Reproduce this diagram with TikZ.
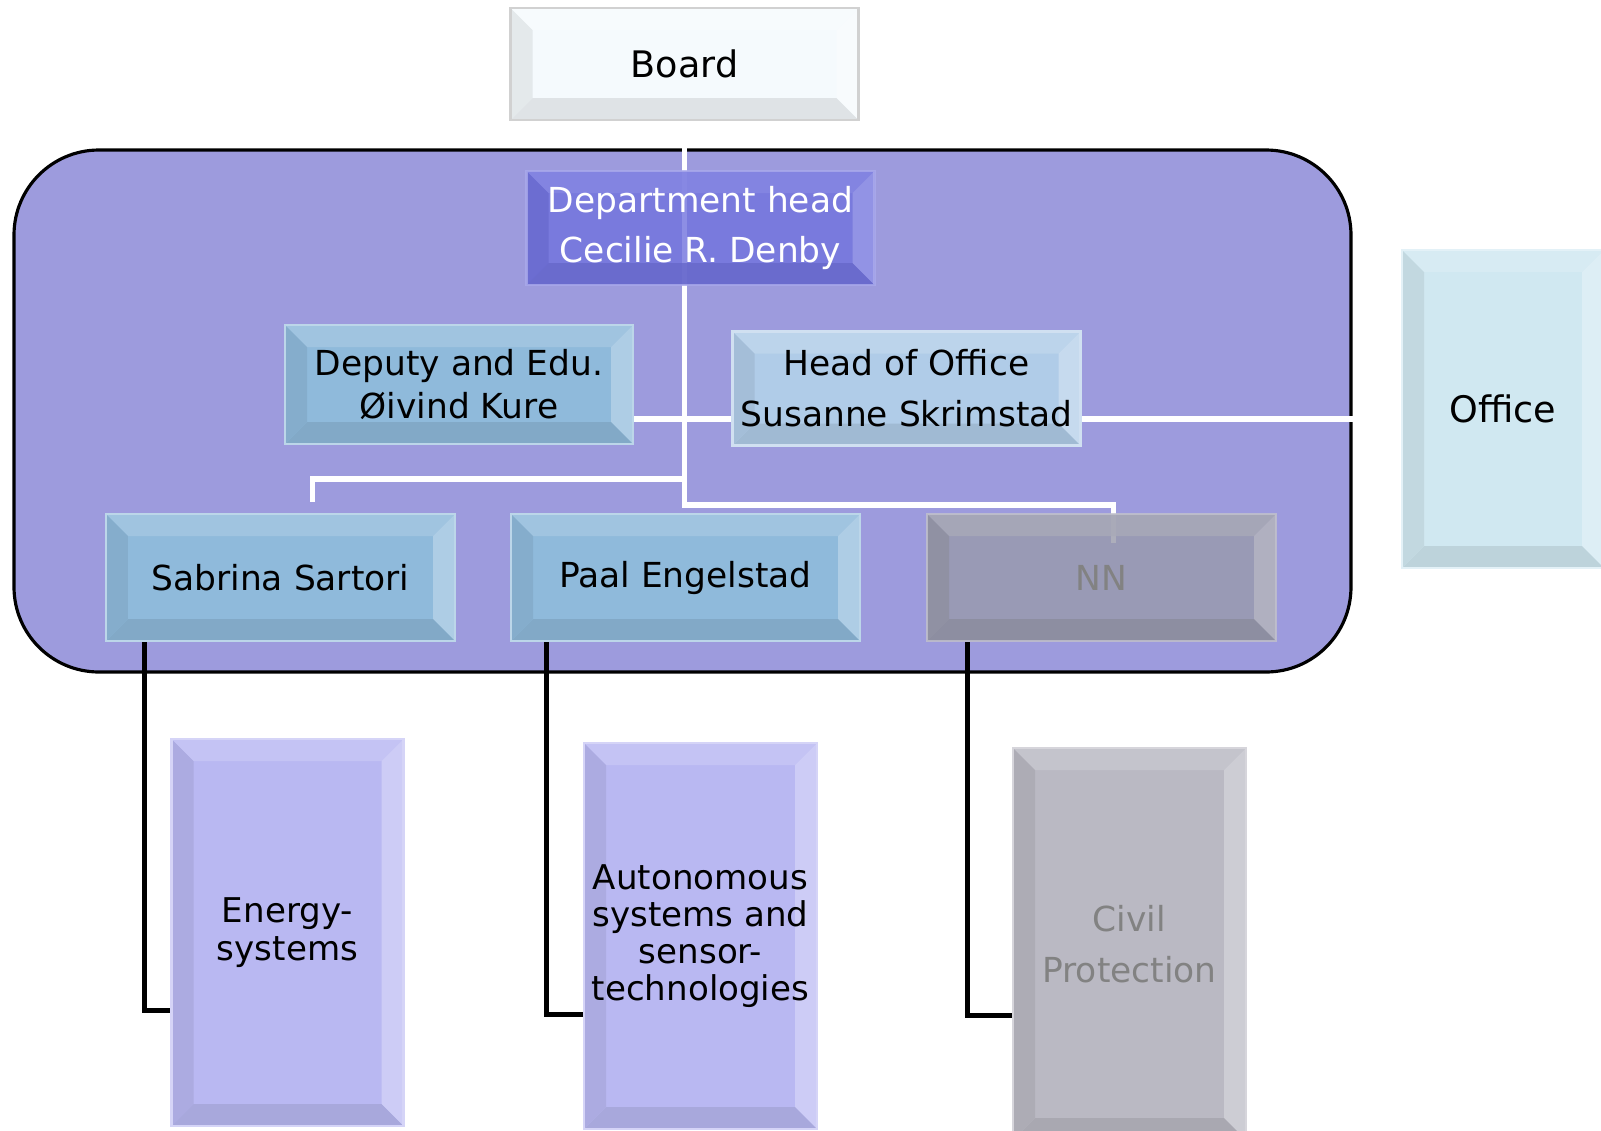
\documentclass[tikz,border=0pt]{standalone}
\usepackage{fontspec}
\setmainfont{DejaVu Sans}
\usetikzlibrary{positioning, backgrounds, calc}

\definecolor{deptbg}{RGB}{157,155,221}
\definecolor{boardwhite}{RGB}{245,250,253}
\definecolor{headblue}{RGB}{113,114,222}
\definecolor{teamblue}{RGB}{143,186,219}
\definecolor{officeblue}{RGB}{176,204,232}
\definecolor{nngray}{RGB}{153,154,171}
\definecolor{officecyan}{RGB}{208,232,241}
\definecolor{grouppurple}{RGB}{185,184,242}
\definecolor{civilgray}{RGB}{186,185,195}
\definecolor{greytext}{RGB}{130,130,130}

% bevel width of the buttons
\newcommand{\bev}{0.22cm}
% four slanted faces of a bevelled button
\newcommand{\bevelfaces}[1]{%
  \coordinate (bvnw) at (path picture bounding box.north west);
  \coordinate (bvne) at (path picture bounding box.north east);
  \coordinate (bvsw) at (path picture bounding box.south west);
  \coordinate (bvse) at (path picture bounding box.south east);
  \fill[#1!85!white] (bvnw) -- (bvne) -- ([shift={(-\bev,-\bev)}]bvne)
      -- ([shift={(\bev,-\bev)}]bvnw) -- cycle;
  \fill[#1!72!white] (bvne) -- (bvse) -- ([shift={(-\bev,\bev)}]bvse)
      -- ([shift={(-\bev,-\bev)}]bvne) -- cycle;
  \fill[#1!91!black] (bvse) -- (bvsw) -- ([shift={(\bev,\bev)}]bvsw)
      -- ([shift={(-\bev,\bev)}]bvse) -- cycle;
  \fill[#1!93!black] (bvsw) -- (bvnw) -- ([shift={(\bev,-\bev)}]bvnw)
      -- ([shift={(\bev,\bev)}]bvsw) -- cycle;
}

\begin{document}
\begin{tikzpicture}[
    font=\fontsize{9.8}{14.5}\selectfont,
    box/.style={rectangle, fill=#1, draw=#1!60!white, line width=0.8pt,
                align=center, inner sep=0pt, path picture={\bevelfaces{#1}}},
    wide/.style={minimum width=3.48cm, minimum height=1.14cm},
    team/.style={minimum width=3.49cm, minimum height=1.27cm},
    group/.style={minimum width=2.32cm, minimum height=3.87cm,
                  font=\fontsize{9.7}{10.6}\selectfont},
    seethru/.style={fill opacity=0.8, draw opacity=0.8, text opacity=1},
    deptarea/.style={rectangle, rounded corners=0.85cm, fill=deptbg,
                     draw=black, line width=0.9pt,
                     minimum width=13.37cm, minimum height=5.22cm},
    wline/.style={draw=white, line width=1.7pt},
    bline/.style={draw=black, line width=1.5pt}
]
\useasboundingbox (0,0) rectangle (16.01,-11.31);

\begin{scope}[on background layer]
  \node[deptarea] (dept) at (6.825,-4.11) {};
\end{scope}

\node[box=boardwhite, draw=black!18, wide, minimum height=1.12cm,
      font=\fontsize{10.4}{12}\selectfont] (board) at (6.845,-0.64) {Board};

\node[box=headblue, seethru, wide, text=white] (head) at (7.005,-2.28)
    {Department head\\Cecilie R. Denby};
\node[box=teamblue, wide, minimum height=1.19cm,
      font=\fontsize{9.8}{12.5}\selectfont] (deputy) at (4.59,-3.845)
    {Deputy and Edu.\\Øivind Kure};
\node[box=officeblue, wide] (hoffice) at (9.065,-3.885)
    {Head of Office\\Susanne Skrimstad};
\node[box=officecyan, minimum width=2.02cm, minimum height=3.18cm,
      font=\fontsize{10.4}{12}\selectfont] (office) at (15.03,-4.09) {Office};

\node[box=teamblue, team] (sabrina) at (2.805,-5.775) {Sabrina Sartori};
\node[box=teamblue, team] (paal)    at (6.855,-5.775) {Paal Engelstad};
\node[box=nngray, seethru, team, text=greytext] (nn) at (11.015,-5.775) {NN};

\node[box=grouppurple, group] (energy) at (2.875,-9.325)
    {Energy-\\systems};
\node[box=grouppurple, group, minimum width=2.33cm, minimum height=3.86cm]
    (autonomous) at (7.005,-9.36)
    {Autonomous\\systems and\\sensor-\\technologies};
\node[box=civilgray, group, minimum width=2.33cm, minimum height=3.92cm,
      text=greytext, font=\fontsize{9.8}{14.5}\selectfont]
    (civil) at (11.295,-9.44) {Civil\\Protection};

% white reporting lines, kept under the buttons
\coordinate (staff) at (0,-4.19);
\coordinate (teams) at (0,-4.79);
\coordinate (spine) at (0,-5.05);
\begin{scope}[on background layer]
  \draw[wline] (board.south) -- (board.south |- spine)
      -| ([xshift=1.2mm,yshift=-3mm]nn.north);
  \draw[wline] (deputy.east |- staff) -- (hoffice.west |- staff);
  \draw[wline] (hoffice.east |- staff) -- (office.west |- staff);
  \draw[wline] (board.south |- teams) -| ([xshift=3.2mm,yshift=1.1mm]sabrina.north);
\end{scope}

% black lines down to the research groups
\draw[bline] ([xshift=4mm]sabrina.south west)
    |- ([yshift=11.7mm]energy.south west);
\draw[bline] ([xshift=3.7mm]paal.south west)
    |- ([yshift=11.6mm]autonomous.south west);
\draw[bline] ([xshift=4.2mm]nn.south west)
    |- ([yshift=12.6mm]civil.south west);
\end{tikzpicture}
\end{document}
